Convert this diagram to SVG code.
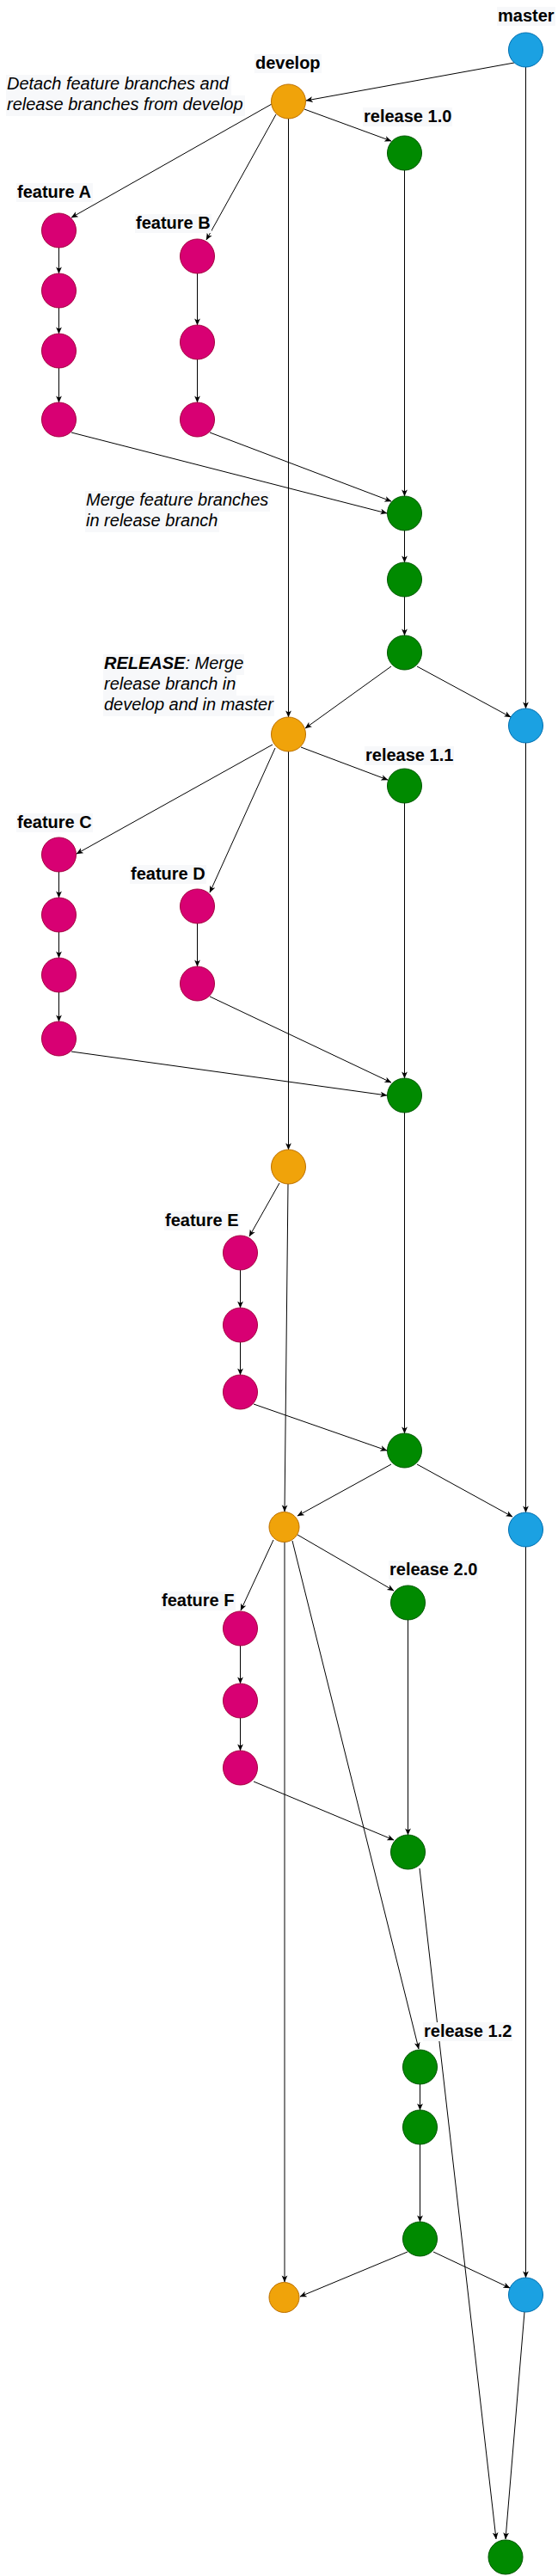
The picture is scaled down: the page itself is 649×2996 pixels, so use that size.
<svg xmlns="http://www.w3.org/2000/svg" width="649" height="2996" viewBox="0 0 649 2996">
<style>
.bg{fill:#ffffff}
.feat{fill:#d80073;stroke:#a50040;stroke-width:1}
.rel{fill:#008a00;stroke:#005700;stroke-width:1}
.dev{fill:#f0a30a;stroke:#bd7000;stroke-width:1}
.mas{fill:#1ba1e2;stroke:#006eaf;stroke-width:1}
.lbl{font-family:"Liberation Sans",Arial,sans-serif;font-size:20px;font-weight:bold;fill:#000}
.note{font-family:"Liberation Sans",Arial,sans-serif;font-size:20px;font-style:italic;fill:#000}
.lbg{fill:#f7f8fa}
.edges line{stroke:#000;stroke-width:1;fill:none;marker-end:url(#arr)}
.edges line.gray{stroke:#000;stroke-width:1}
</style>
<defs>
<marker id="arr" viewBox="0 0 10 10" refX="9.5" refY="5" markerWidth="8" markerHeight="8" markerUnits="userSpaceOnUse" orient="auto">
<path d="M0,0.8 L10,5 L0,9.2 L2.6,5 z" fill="#000"/>
</marker>
</defs>
<rect class="bg" x="0" y="0" width="649" height="2996"/>

<g id="connectors" class="edges">
<line x1="598" y1="73" x2="356" y2="117"/>
<line x1="611.5" y1="78" x2="611.5" y2="824"/>
<line x1="316" y1="121" x2="83" y2="253"/>
<line x1="321" y1="133" x2="240" y2="279"/>
<line x1="354" y1="127" x2="455" y2="164"/>
<line x1="335.5" y1="138" x2="335.5" y2="834"/>
<line x1="68.5" y1="288" x2="68.5" y2="318"/>
<line x1="68.5" y1="358" x2="68.5" y2="388"/>
<line x1="68.5" y1="428" x2="68.5" y2="468"/>
<line x1="229.5" y1="318" x2="229.5" y2="378"/>
<line x1="229.5" y1="418" x2="229.5" y2="468"/>
<line x1="470.5" y1="198" x2="470.5" y2="577"/>
<line x1="83" y1="503" x2="450" y2="597"/>
<line x1="244" y1="503" x2="455" y2="583"/>
<line x1="470.5" y1="617" x2="470.5" y2="654"/>
<line x1="470.5" y1="694" x2="470.5" y2="739"/>
<line x1="455" y1="775" x2="355" y2="847"/>
<line x1="485" y1="775" x2="594" y2="834"/>
<line x1="317" y1="866" x2="89" y2="993"/>
<line x1="320" y1="870" x2="244" y2="1038"/>
<line x1="350" y1="869" x2="451" y2="907"/>
<line x1="335.5" y1="874" x2="335.5" y2="1337"/>
<line x1="68.5" y1="1014" x2="68.5" y2="1044"/>
<line x1="68.5" y1="1084" x2="68.5" y2="1114"/>
<line x1="68.5" y1="1154" x2="68.5" y2="1188"/>
<line x1="229.5" y1="1074" x2="229.5" y2="1124"/>
<line x1="83" y1="1223" x2="450" y2="1274"/>
<line x1="244" y1="1159" x2="455" y2="1259"/>
<line x1="470.5" y1="934" x2="470.5" y2="1254"/>
<line x1="470.5" y1="1294" x2="470.5" y2="1667"/>
<line x1="325" y1="1376" x2="290" y2="1438"/>
<line class="gray" x1="335" y1="1377" x2="331" y2="1758"/>
<line x1="279.5" y1="1477" x2="279.5" y2="1521"/>
<line x1="279.5" y1="1561" x2="279.5" y2="1599"/>
<line x1="295" y1="1633" x2="450" y2="1687"/>
<line x1="455" y1="1703" x2="346" y2="1763"/>
<line x1="485" y1="1703" x2="596" y2="1764"/>
<line x1="611.5" y1="864" x2="611.5" y2="1759"/>
<line x1="318" y1="1791" x2="280" y2="1873"/>
<line x1="346" y1="1785" x2="458" y2="1850"/>
<line x1="340" y1="1792" x2="487" y2="2383"/>
<line class="gray" x1="331" y1="1793" x2="331" y2="2654"/>
<line x1="279.5" y1="1914" x2="279.5" y2="1958"/>
<line x1="279.5" y1="1998" x2="279.5" y2="2036"/>
<line x1="295" y1="2072" x2="458" y2="2140"/>
<line x1="474.5" y1="1884" x2="474.5" y2="2134"/>
<line x1="488.5" y1="2424" x2="488.5" y2="2454"/>
<line x1="488.5" y1="2494" x2="488.5" y2="2584"/>
<line x1="474" y1="2619" x2="349" y2="2671"/>
<line x1="504" y1="2619" x2="593" y2="2661"/>
<line x1="611.5" y1="1799" x2="611.5" y2="2649"/>
<line x1="488" y1="2173" x2="577" y2="2953"/>
<line x1="610" y1="2689" x2="588" y2="2953"/>
</g>

<g id="node-master-1"><circle class="mas" cx="611.5" cy="58" r="20"/></g>
<g id="node-develop-1"><circle class="dev" cx="335.5" cy="118" r="20"/></g>
<g id="node-release10-1"><circle class="rel" cx="470.5" cy="178" r="20"/></g>
<g id="node-featA-1"><circle class="feat" cx="68.5" cy="268" r="20"/></g>
<g id="node-featA-2"><circle class="feat" cx="68.5" cy="338" r="20"/></g>
<g id="node-featA-3"><circle class="feat" cx="68.5" cy="408" r="20"/></g>
<g id="node-featA-4"><circle class="feat" cx="68.5" cy="488" r="20"/></g>
<g id="node-featB-1"><circle class="feat" cx="229.5" cy="298" r="20"/></g>
<g id="node-featB-2"><circle class="feat" cx="229.5" cy="398" r="20"/></g>
<g id="node-featB-3"><circle class="feat" cx="229.5" cy="488" r="20"/></g>
<g id="node-release10-2"><circle class="rel" cx="470.5" cy="597" r="20"/></g>
<g id="node-release10-3"><circle class="rel" cx="470.5" cy="674" r="20"/></g>
<g id="node-release10-4"><circle class="rel" cx="470.5" cy="759" r="20"/></g>
<g id="node-develop-2"><circle class="dev" cx="335.5" cy="854" r="20"/></g>
<g id="node-master-2"><circle class="mas" cx="611.5" cy="844" r="20"/></g>
<g id="node-release11-1"><circle class="rel" cx="470.5" cy="914" r="20"/></g>
<g id="node-featC-1"><circle class="feat" cx="68.5" cy="994" r="20"/></g>
<g id="node-featC-2"><circle class="feat" cx="68.5" cy="1064" r="20"/></g>
<g id="node-featC-3"><circle class="feat" cx="68.5" cy="1134" r="20"/></g>
<g id="node-featC-4"><circle class="feat" cx="68.5" cy="1208" r="20"/></g>
<g id="node-featD-1"><circle class="feat" cx="229.5" cy="1054" r="20"/></g>
<g id="node-featD-2"><circle class="feat" cx="229.5" cy="1144" r="20"/></g>
<g id="node-release11-2"><circle class="rel" cx="470.5" cy="1274" r="20"/></g>
<g id="node-develop-3"><circle class="dev" cx="335.5" cy="1357" r="20"/></g>
<g id="node-featE-1"><circle class="feat" cx="279.5" cy="1457" r="20"/></g>
<g id="node-featE-2"><circle class="feat" cx="279.5" cy="1541" r="20"/></g>
<g id="node-featE-3"><circle class="feat" cx="279.5" cy="1619" r="20"/></g>
<g id="node-release11-3"><circle class="rel" cx="470.5" cy="1687" r="20"/></g>
<g id="node-develop-4"><circle class="dev" cx="330.5" cy="1776" r="17.5"/></g>
<g id="node-master-3"><circle class="mas" cx="611.5" cy="1779" r="20"/></g>
<g id="node-release20-1"><circle class="rel" cx="474.5" cy="1864" r="20"/></g>
<g id="node-featF-1"><circle class="feat" cx="279.5" cy="1894" r="20"/></g>
<g id="node-featF-2"><circle class="feat" cx="279.5" cy="1978" r="20"/></g>
<g id="node-featF-3"><circle class="feat" cx="279.5" cy="2056" r="20"/></g>
<g id="node-release20-2"><circle class="rel" cx="474.5" cy="2154" r="20"/></g>
<g id="node-release12-1"><circle class="rel" cx="488.5" cy="2404" r="20"/></g>
<g id="node-release12-2"><circle class="rel" cx="488.5" cy="2474" r="20"/></g>
<g id="node-release12-3"><circle class="rel" cx="488.5" cy="2604" r="20"/></g>
<g id="node-develop-5"><circle class="dev" cx="330.5" cy="2672" r="17.5"/></g>
<g id="node-master-4"><circle class="mas" cx="611.5" cy="2669" r="20"/></g>
<g id="node-release20-3"><circle class="rel" cx="588" cy="2974" r="20"/></g>

<g id="label-master"><rect class="lbg" x="578" y="8" width="68" height="22"/><text class="lbl" x="579" y="25">master</text></g>
<g id="label-develop"><rect class="lbg" x="296" y="63" width="78" height="22"/><text class="lbl" x="297" y="80">develop</text></g>
<g id="label-release10"><rect class="lbg" x="422" y="125" width="104" height="22"/><text class="lbl" x="423" y="142">release 1.0</text></g>
<g id="label-featA"><rect class="lbg" x="19" y="213" width="89" height="22"/><text class="lbl" x="20" y="230">feature A</text></g>
<g id="label-featB"><rect class="lbg" x="157" y="249" width="89" height="22"/><text class="lbl" x="158" y="266">feature B</text></g>
<g id="label-release11"><rect class="lbg" x="424" y="868" width="104" height="22"/><text class="lbl" x="425" y="885">release 1.1</text></g>
<g id="label-featC"><rect class="lbg" x="19" y="946" width="89" height="22"/><text class="lbl" x="20" y="963">feature C</text></g>
<g id="label-featD"><rect class="lbg" x="151" y="1006" width="89" height="22"/><text class="lbl" x="152" y="1023">feature D</text></g>
<g id="label-featE"><rect class="lbg" x="191" y="1409" width="88" height="22"/><text class="lbl" x="192" y="1426">feature E</text></g>
<g id="label-release20"><rect class="lbg" x="452" y="1815" width="104" height="22"/><text class="lbl" x="453" y="1832">release 2.0</text></g>
<g id="label-featF"><rect class="lbg" x="187" y="1851" width="87" height="22"/><text class="lbl" x="188" y="1868">feature F</text></g>
<g id="label-release12"><rect class="lbg" x="492" y="2352" width="104" height="22"/><text class="lbl" x="493" y="2369">release 1.2</text></g>

<g id="note-detach">
<rect class="lbg" x="7" y="87" width="262" height="24"/>
<rect class="lbg" x="7" y="111" width="278" height="24"/>
<text class="note" x="8" y="104">Detach feature branches and</text>
<text class="note" x="8" y="128">release branches from develop</text>
</g>
<g id="note-merge">
<rect class="lbg" x="99" y="571" width="215" height="24"/>
<rect class="lbg" x="99" y="595" width="156" height="24"/>
<text class="note" x="100" y="588">Merge feature branches</text>
<text class="note" x="100" y="612">in release branch</text>
</g>
<g id="note-release">
<rect class="lbg" x="120" y="761" width="164" height="24"/>
<rect class="lbg" x="120" y="785" width="155" height="24"/>
<rect class="lbg" x="120" y="809" width="199" height="24"/>
<text class="note" x="121" y="778"><tspan font-weight="bold">RELEASE</tspan>: Merge</text>
<text class="note" x="121" y="802">release branch in</text>
<text class="note" x="121" y="826">develop and in master</text>
</g>
</svg>
